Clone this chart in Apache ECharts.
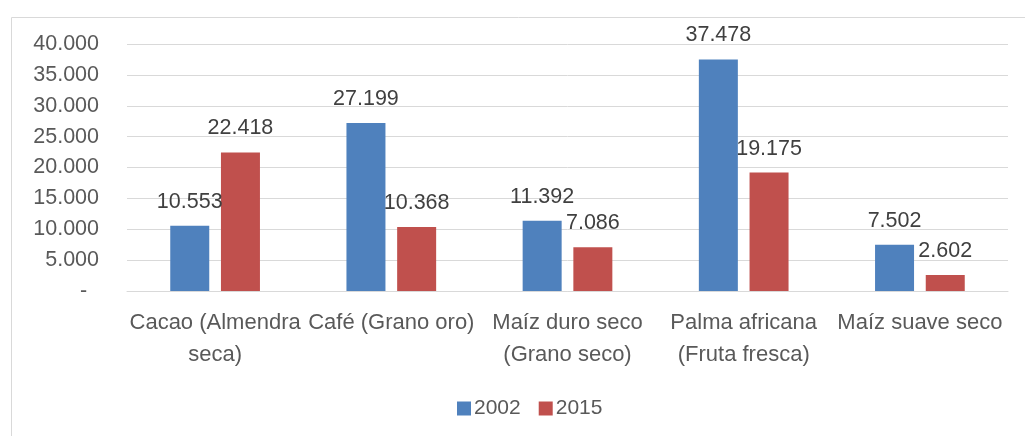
<!DOCTYPE html>
<html>
<head>
<meta charset="utf-8">
<script src="https://cdn.jsdelivr.net/npm/echarts@6/dist/echarts.min.js"></script>
<style>html,body{margin:0;padding:0;background:#fff}#c{width:1025px;height:436px}</style>
</head>
<body>
<div id="c"></div>
<script>
const categories = ['Cacao (Almendra\nseca)', 'Café (Grano oro)', 'Maíz duro seco\n(Grano seco)', 'Palma africana\n(Fruta fresca)', 'Maíz suave seco'];
const series2002 = [10553, 27199, 11392, 37478, 7502];
const series2015 = [22418, 10368, 7086, 19175, 2602];
const seriesNames = ['2002', '2015'];

function fmt(v) {
  if (v === 0) return '-  ';
  return String(Math.round(v)).replace(/\B(?=(\d{3})+(?!\d))/g, '.');
}
const FONT = 'Liberation Sans';
const chart = echarts.init(document.getElementById('c'), null, {renderer: 'canvas'});
const labelCfg = {
  show: true, position: 'top', distance: 13,
  formatter: p => fmt(p.value),
  fontFamily: FONT, fontSize: 21.5, color: '#404040'
};
chart.setOption({
  animation: false,
  graphic: [{
    type: 'rect', left: 9, top: 15, silent: true,
    shape: {width: 1030, height: 440},
    style: {fill: 'none', stroke: '#D9D9D9', lineWidth: 1}
  }],
  grid: {left: 127, right: 17, top: 44, bottom: 145},
  legend: {
    data: seriesNames, left: 452, top: 393,
    itemWidth: 14, itemHeight: 14, itemGap: 18, icon: 'rect',
    textStyle: {fontFamily: FONT, fontSize: 21, color: '#595959', padding: [0, 0, 0, -2]}
  },
  xAxis: {
    type: 'category', data: categories,
    axisLine: {lineStyle: {color: '#D9D9D9', width: 1}},
    axisTick: {show: false},
    axisLabel: {interval: 0, margin: 16, fontFamily: FONT, fontSize: 22, color: '#595959', lineHeight: 32}
  },
  yAxis: {
    type: 'value', min: 0, max: 40000, interval: 5000,
    axisLine: {show: false}, axisTick: {show: false},
    splitLine: {lineStyle: {color: '#D9D9D9', width: 1}},
    axisLabel: {margin: 28, formatter: fmt, fontFamily: FONT, fontSize: 21.5, color: '#595959'}
  },
  series: [
    {name: seriesNames[0], type: 'bar', data: series2002, barWidth: 39, barGap: '30%',
     itemStyle: {color: '#4F81BD'}, label: labelCfg},
    {name: seriesNames[1], type: 'bar', data: series2015, barWidth: 39,
     itemStyle: {color: '#C0504D'}, label: labelCfg}
  ]
});
</script>
</body>
</html>
